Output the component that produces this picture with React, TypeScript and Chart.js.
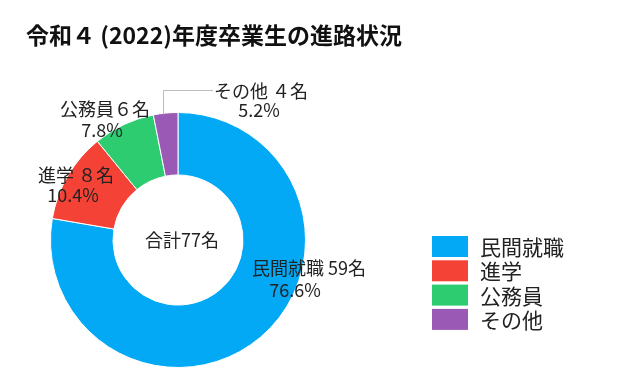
import React, { useEffect, useRef } from "react";
import { Chart, registerables } from "chart.js";

Chart.register(...registerables);

const TITLE = "令和４ (2022)年度卒業生の進路状況";
const categories = ["民間就職", "進学", "公務員", "その他"];
// headcounts as labelled in the picture
const counts = [59, 8, 6, 4];
// slice sizes (%) as actually drawn in the picture (measured from the slice angles)
const sliceShares = [77.7, 11.4, 7.8, 3.1];
const percentLabels = ["76.6%", "10.4%", "7.8%", "5.2%"];
const countLabels = ["民間就職 59名", "進学 ８名", "公務員６名", "その他 ４名"];
const colors = ["#03A9F4", "#F44336", "#2ECC71", "#9B59B6"];
const totalLabel = "合計77名";

// label line offsets relative to the doughnut centre (px): [line1dx, line1dy, line2dx, line2dy]
const labelOffsets = [
  [131, 28, 117, 50],
  [-102, -65, -105, -45],
  [-73, -131, -76, -110],
  [83, -149, 81, -130],
];

const FONT = "'Noto Sans CJK JP', 'Noto Sans', sans-serif";

const overlayPlugin = {
  id: "overlay",
  afterDraw(chart: any) {
    const ctx = chart.ctx as CanvasRenderingContext2D;
    const meta = chart.getDatasetMeta(0);
    const a0 = meta.data[0] as any;
    const cx = a0.x;
    const cy = a0.y;
    const R = a0.outerRadius;
    ctx.save();

    // title
    ctx.font = `bold 23px ${FONT}`;
    ctx.fillStyle = "#111";
    ctx.textAlign = "left";
    ctx.textBaseline = "middle";
    ctx.fillText(TITLE, 26, 35);

    // leader line for その他
    const lx = cx - 15;
    const ly0 = cy - Math.sqrt(R * R - 15 * 15) + 1;
    ctx.strokeStyle = "#bbbbbb";
    ctx.lineWidth = 1;
    ctx.beginPath();
    ctx.moveTo(Math.round(lx) + 0.5, ly0);
    ctx.lineTo(Math.round(lx) + 0.5, cy - 150 + 0.5);
    ctx.lineTo(cx + 35, cy - 150 + 0.5);
    ctx.stroke();

    // data labels
    ctx.font = `18px ${FONT}`;
    ctx.fillStyle = "#222";
    ctx.textAlign = "center";
    ctx.textBaseline = "middle";
    labelOffsets.forEach((o, i) => {
      ctx.fillText(countLabels[i], cx + o[0], cy + o[1]);
      ctx.fillText(percentLabels[i], cx + o[2], cy + o[3]);
    });

    // centre text
    ctx.fillText(totalLabel, cx + 4, cy);

    // legend
    ctx.font = `21px ${FONT}`;
    ctx.textAlign = "left";
    categories.forEach((c, i) => {
      const top = 236 + i * 24.3;
      ctx.fillStyle = colors[i];
      ctx.fillRect(432, top, 36, 21);
      ctx.fillStyle = "#222";
      ctx.fillText(c, 480, top + 11);
    });

    ctx.restore();
  },
};

export default function App() {
  const ref = useRef<HTMLCanvasElement | null>(null);
  useEffect(() => {
    if (!ref.current) return;
    const chart = new Chart(ref.current, {
      type: "doughnut",
      data: {
        labels: categories,
        datasets: [
          {
            data: sliceShares,
            backgroundColor: colors,
            borderColor: "#ffffff",
            borderWidth: 1,
          },
        ],
      },
      options: {
        responsive: false,
        animation: false,
        cutout: "51%",
        rotation: 0,
        layout: { padding: { left: 50, top: 112, right: 313, bottom: 23 } },
        plugins: {
          legend: { display: false },
          title: { display: false },
          tooltip: { enabled: false },
        },
        events: [],
      },
      plugins: [overlayPlugin],
    });
    return () => chart.destroy();
  }, []);
  return (
    <div style={{ position: "fixed", left: 0, top: 0, width: 619, height: 391, background: "#fff" }}>
      <canvas ref={ref} width={619} height={391} style={{ display: "block" }} />
    </div>
  );
}
